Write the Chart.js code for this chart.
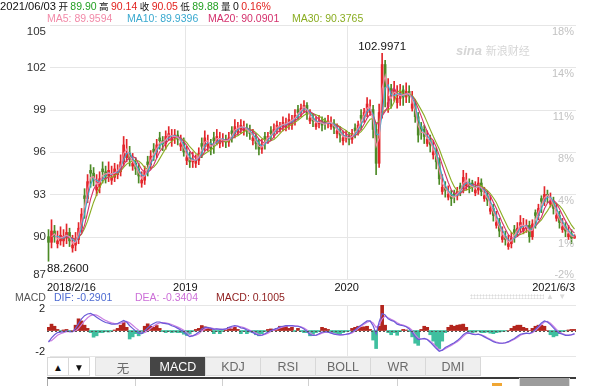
<!DOCTYPE html>
<html><head><meta charset="utf-8">
<script src="https://cdn.jsdelivr.net/npm/chart.js@4/dist/chart.umd.min.js"></script>
<style>
body{margin:0;width:600px;height:386px;overflow:hidden;background:#fff;position:relative;font-family:"Liberation Sans",Arial,"Noto Sans CJK SC",sans-serif;}
.a{position:absolute;white-space:nowrap}
.cjk{font-family:"Noto Sans CJK SC","Liberation Sans",sans-serif}
.h .cjk{font-size:9.5px}
.g{color:#23a023}.r{color:#e2231f}
.tab{position:absolute;top:357px;height:19px;line-height:19px;text-align:center;font-size:12.5px;color:#6a6a6a;background:#efefef;border:1px solid #d8d8d8;box-sizing:border-box}
canvas{position:absolute;left:0}
</style></head><body>
<canvas id="main" width="600" height="300" style="top:0;width:600px;height:300px"></canvas>
<canvas id="macd" width="600" height="60" style="top:300px;width:600px;height:60px"></canvas>

<div class="a h" style="left:0;top:-1px;font-size:10.5px;line-height:14px;color:#111;word-spacing:-0.5px"><span style="font-size:11.2px">2021/06/03</span> <span class="cjk">开</span> <span class="g">89.90</span> <span class="cjk">高</span> <span class="r">90.14</span> <span class="cjk">收</span> <span class="r">90.05</span> <span class="cjk">低</span> <span class="g">89.88</span> <span class="cjk">量</span> 0 <span class="r">0.16%</span></div>
<div class="a" style="left:47px;top:11px;font-size:10.5px;line-height:14px;color:#f28aa8">MA5: 89.9594</div>
<div class="a" style="left:127px;top:11px;font-size:10.5px;line-height:14px;color:#3aa9cf">MA10: 89.9396</div>
<div class="a" style="left:208px;top:11px;font-size:10.5px;line-height:14px;color:#d4306c">MA20: 90.0901</div>
<div class="a" style="left:292px;top:11px;font-size:10.5px;line-height:14px;color:#8aad22">MA30: 90.3765</div>

<div class="a" style="left:456px;top:43px;color:#d6d6d6;font-size:13px;line-height:14px"><i><b>sina</b></i> <span class="cjk" style="font-size:11px">新浪财经</span></div>

<div class="a" style="left:15px;top:290px;font-size:10.5px;line-height:14px;color:#555">MACD</div>
<div class="a" style="left:54px;top:290px;font-size:10.5px;line-height:14px;color:#4d6bd2">DIF: -0.2901</div>
<div class="a" style="left:135px;top:290px;font-size:10.5px;line-height:14px;color:#cc6fd8">DEA: -0.3404</div>
<div class="a" style="left:216px;top:290px;font-size:10.5px;line-height:14px;color:#8e1d1d">MACD: 0.1005</div>
<div class="a" style="left:470px;top:294px;width:74px;height:5px;background-image:radial-gradient(#dcdcdc 45%,transparent 50%);background-size:3px 3px"></div>
<div class="a" style="left:546px;top:291px;font-size:8px;line-height:12px;color:#dadada">▲ &nbsp;▼</div>

<div class="tab" style="left:47px;width:22px;background:#fff;color:#111;font-size:10px">▲</div>
<div class="tab" style="left:68px;width:22px;background:#fff;color:#111;font-size:10px">▼</div>
<div class="tab cjk" style="left:95px;width:56px">无</div>
<div class="tab" style="left:150px;width:56px;background:#454545;border-color:#454545;color:#fff">MACD</div>
<div class="tab" style="left:205px;width:56px">KDJ</div>
<div class="tab" style="left:260px;width:56px">RSI</div>
<div class="tab" style="left:315px;width:56px">BOLL</div>
<div class="tab" style="left:370px;width:56px">WR</div>
<div class="tab" style="left:425px;width:56px">DMI</div>

<div class="a" style="left:47px;top:377px;width:528px;height:9px;border-top:2px solid #3a3a3a;border-left:1px solid #aaa"></div>
<div class="a" style="left:135px;top:379px;width:1px;height:7px;background:#d0d0d0"></div>
<div class="a" style="left:222px;top:379px;width:1px;height:7px;background:#d0d0d0"></div>
<div class="a" style="left:308px;top:379px;width:1px;height:7px;background:#d0d0d0"></div>
<div class="a" style="left:397px;top:379px;width:1px;height:7px;background:#d0d0d0"></div>
<div class="a" style="left:492px;top:383px;width:10px;height:3px;background:#f0a633"></div>
<div class="a" style="left:519px;top:378px;width:49px;height:8px;background:#9c9c9c;border-left:1px solid #ddd;border-right:1px solid #ddd"></div>

<script>
// ---- price data (one bar ≈ 4.6 trading days) ----
const opens = [
90.0,89.6,90.4,89.5,89.7,89.7,89.9,90.3,89.2,89.4,
89.8,90.6,92.9,92.7,94.7,94.5,93.3,93.5,94.8,94.6,
94.3,94.0,94.2,94.4,94.6,95.3,95.6,95.9,95.0,95.2,
94.8,93.8,94.0,95.3,95.1,96.2,96.0,97.0,96.8,96.6,
97.1,96.8,97.0,97.2,96.4,96.6,95.4,95.6,95.3,95.2,
95.4,96.6,96.4,96.4,96.6,97.0,96.8,96.6,96.8,96.9,
96.7,97.5,97.3,97.4,97.6,97.5,97.7,97.5,96.8,97.0,
96.6,96.2,97.1,96.9,97.5,97.3,97.6,97.6,97.8,97.7,
97.9,97.9,98.2,99.0,98.8,99.1,99.3,98.2,98.4,97.8,
98.0,98.2,98.2,98.0,97.8,98.0,97.3,97.5,96.8,97.0,
97.1,96.9,97.7,97.5,98.6,98.4,98.8,98.8,99.0,97.6,
95.2,98.8,102.2,99.2,100.5,100.1,99.5,99.8,100.4,99.9,
100.3,99.1,99.4,98.5,97.8,97.6,96.6,96.9,95.8,96.0,
95.3,93.2,93.5,92.8,93.0,93.1,92.9,93.6,93.4,93.6,
93.8,93.8,93.1,93.3,93.8,92.7,92.9,91.8,92.0,90.8,
91.0,89.8,90.0,89.3,89.5,90.5,90.3,90.6,90.4,90.6,
90.8,90.0,91.7,91.5,92.7,92.5,93.0,92.3,92.5,91.3,
91.5,90.5,90.7,90.0,90.2,89.90];
const closes = [
89.6,90.4,90.0,89.7,90.1,89.9,90.3,89.7,89.4,89.8,
90.6,91.6,92.7,93.9,94.5,94.0,93.5,94.1,94.6,94.3,
94.7,94.2,94.8,94.6,95.3,96.5,95.9,95.5,95.2,94.8,
94.3,94.0,94.6,95.1,95.7,96.0,96.5,96.8,96.6,97.1,
97.3,97.0,97.2,96.9,96.6,96.0,95.6,95.3,95.5,95.4,
95.9,96.4,97.0,96.6,96.2,96.8,97.1,96.8,96.9,96.7,
97.0,97.3,97.8,97.6,97.9,97.7,97.5,97.3,97.0,96.6,
96.2,96.5,96.9,97.1,97.3,97.6,97.9,97.8,98.1,97.9,
98.3,98.2,98.6,98.8,99.1,99.3,98.7,98.4,98.2,98.0,
98.2,97.9,98.0,98.2,98.0,97.7,97.5,97.2,97.0,97.1,
96.9,97.3,97.5,97.9,98.4,98.8,99.4,99.0,97.6,95.2,
98.8,102.2,100.6,99.5,100.1,100.4,99.8,100.2,99.9,100.3,
100.0,99.4,98.5,97.2,97.6,97.1,96.9,96.5,96.0,95.3,
94.1,93.5,93.3,93.0,92.7,92.9,93.2,93.4,94.2,93.8,
93.5,93.6,93.3,93.8,93.2,92.9,92.6,92.0,91.5,91.0,
90.4,90.0,89.8,89.5,89.9,90.3,90.6,91.0,90.6,90.8,
90.0,90.9,91.5,92.0,92.5,93.0,92.9,92.5,92.0,91.5,
91.0,90.7,90.4,90.2,89.9,90.05];
const highs = [
90.5,91.2,90.8,90.4,90.7,90.5,90.9,90.6,90.1,90.3,
91.0,92.0,93.4,94.4,95.1,94.9,94.4,94.6,95.3,95.0,
95.3,95.0,95.2,95.1,95.8,97.1,96.9,96.4,95.9,95.6,
95.2,94.6,95.0,95.7,96.1,96.6,96.9,97.4,97.1,97.5,
97.8,97.6,97.6,97.5,97.2,97.0,96.4,96.0,96.0,95.8,
96.3,97.0,97.5,97.2,96.9,97.4,97.6,97.4,97.3,97.2,
97.4,97.8,98.3,98.1,98.3,98.2,98.0,97.9,97.6,97.3,
96.9,96.9,97.4,97.4,97.8,98.0,98.2,98.1,98.5,98.4,
98.7,98.6,99.0,99.3,99.4,99.65,99.5,99.0,98.7,98.5,
98.6,98.5,98.4,98.6,98.5,98.3,98.0,97.8,97.5,97.5,
97.4,97.6,98.0,98.2,99.0,99.1,99.85,99.7,99.3,98.0,
99.4,102.9971,102.5,101.2,100.8,101.0,100.7,100.8,100.7,100.9,
100.7,100.3,99.7,98.8,98.1,97.9,97.5,97.2,96.8,96.3,
95.6,94.4,93.9,93.6,93.3,93.3,93.5,93.8,94.7,94.5,
94.1,94.0,93.9,94.2,94.1,93.5,93.2,92.9,92.3,91.8,
91.3,90.7,90.4,90.1,90.3,90.8,91.0,91.5,91.3,91.2,
91.1,91.2,91.9,92.3,92.9,93.55,93.3,93.1,92.8,92.3,
91.8,91.3,91.0,90.8,90.5,90.14];
const lows = [
88.26,89.2,89.6,89.2,89.4,89.3,89.5,89.3,88.9,89.0,
89.5,90.3,91.3,92.4,93.5,93.6,92.9,93.1,93.8,93.8,
93.9,93.7,93.9,94.1,94.3,95.0,95.3,95.0,94.7,94.4,
93.8,93.5,93.7,94.3,94.8,95.4,95.6,96.2,96.1,96.2,
96.8,96.4,96.6,96.5,96.1,95.7,95.1,94.9,94.9,94.9,
95.1,95.6,96.1,96.1,95.8,95.9,96.5,96.3,96.4,96.3,
96.4,96.7,97.0,97.2,97.3,97.2,97.1,96.9,96.5,96.2,
95.8,95.9,96.2,96.6,96.8,97.0,97.3,97.4,97.5,97.5,
97.6,97.6,97.9,98.3,98.5,98.8,98.3,98.0,97.8,97.6,
97.7,97.5,97.6,97.7,97.6,97.3,97.0,96.7,96.5,96.7,
96.5,96.6,97.0,97.2,97.6,98.1,98.5,98.6,97.0,94.4,
94.9,98.4,99.2,98.8,99.1,99.6,99.1,99.3,99.3,99.5,
99.5,98.9,98.1,96.7,96.9,96.6,96.4,96.0,95.5,94.8,
93.7,93.0,92.8,92.6,92.2,92.4,92.6,92.9,93.1,93.3,
93.1,93.2,92.9,93.0,92.9,92.5,92.2,91.6,91.1,90.6,
90.0,89.6,89.4,89.1,89.2,89.6,90.0,90.3,90.2,90.3,
89.6,89.8,90.6,91.2,91.7,92.2,92.4,92.1,91.6,91.1,
90.6,90.3,90.0,89.8,89.5,89.88];

// ---- MACD panel values ----
const difVals = [
-1.1,-0.7,-0.4,-0.2,-0.15,-0.1,-0.05,-0.1,-0.1,0.2,
0.65,1.1,1.4,1.55,1.6,1.45,1.25,1.05,0.9,0.75,
0.7,0.6,0.6,0.65,0.8,0.95,0.8,0.45,0.2,-0.05,
-0.25,-0.3,-0.05,0.25,0.5,0.65,0.8,0.8,0.7,0.65,
0.6,0.45,0.35,0.2,0.05,-0.15,-0.4,-0.57,-0.5,-0.35,
-0.15,0.15,0.3,0.3,0.2,0.1,0.15,0.1,0.1,0.15,
0.3,0.4,0.47,0.4,0.25,0.2,0.05,-0.05,-0.2,-0.35,
-0.47,-0.45,-0.3,-0.15,0.0,0.1,0.2,0.35,0.4,0.45,
0.47,0.45,0.4,0.4,0.3,0.15,-0.1,-0.4,-0.47,-0.45,
-0.3,-0.15,-0.1,-0.15,-0.25,-0.35,-0.4,-0.42,-0.4,-0.35,
-0.3,-0.15,0.05,0.3,0.5,0.7,0.9,0.9,0.45,-0.3,
0.8,1.6,1.45,1.1,0.95,0.85,0.6,0.5,0.45,0.35,
0.15,-0.2,-0.6,-0.85,-0.8,-0.75,-0.85,-1.1,-1.4,-1.7,
-1.95,-1.85,-1.6,-1.45,-1.3,-1.15,-0.95,-0.7,-0.4,-0.2,
-0.25,-0.35,-0.4,-0.35,-0.45,-0.6,-0.75,-0.9,-1.05,-1.15,
-1.2,-1.2,-1.15,-1.05,-0.9,-0.75,-0.55,-0.35,-0.3,-0.25,
-0.3,-0.15,0.1,0.4,0.7,0.9,0.8,0.55,0.25,-0.05,
-0.25,-0.35,-0.45,-0.45,-0.4,-0.2901];
const deaVals = [
-1.0,-0.95,-0.7,-0.45,-0.3,-0.2,-0.12,-0.1,-0.1,-0.05,
0.2,0.55,0.9,1.2,1.4,1.5,1.45,1.3,1.1,0.95,
0.82,0.72,0.65,0.62,0.66,0.78,0.85,0.72,0.5,0.25,
0.02,-0.15,-0.2,-0.05,0.2,0.42,0.6,0.72,0.75,0.72,
0.66,0.56,0.45,0.32,0.18,0.02,-0.2,-0.4,-0.5,-0.45,
-0.3,-0.05,0.15,0.25,0.25,0.18,0.15,0.13,0.11,0.12,
0.2,0.3,0.4,0.42,0.35,0.27,0.15,0.03,-0.1,-0.25,
-0.38,-0.43,-0.38,-0.25,-0.1,0.03,0.13,0.25,0.33,0.4,
0.44,0.45,0.43,0.41,0.35,0.23,0.05,-0.22,-0.4,-0.45,
-0.38,-0.25,-0.15,-0.13,-0.2,-0.3,-0.37,-0.41,-0.41,-0.37,
-0.32,-0.22,-0.05,0.18,0.4,0.6,0.78,0.88,0.7,0.3,
0.5,1.1,1.35,1.2,1.05,0.92,0.72,0.58,0.5,0.4,
0.25,0.0,-0.4,-0.72,-0.8,-0.78,-0.82,-1.0,-1.25,-1.55,
-1.82,-1.88,-1.72,-1.55,-1.4,-1.22,-1.05,-0.82,-0.55,-0.3,
-0.25,-0.3,-0.37,-0.37,-0.4,-0.52,-0.68,-0.82,-0.97,-1.1,
-1.17,-1.2,-1.17,-1.1,-0.97,-0.82,-0.65,-0.45,-0.33,-0.27,
-0.28,-0.2,0.0,0.27,0.55,0.8,0.85,0.68,0.4,0.1,
-0.15,-0.3,-0.4,-0.44,-0.42,-0.3404];
const macdHist = [
0.3,0.6,0.4,0.1,-0.05,0.05,0.1,-0.05,0.0,0.5,
1.1,0.9,0.5,0.2,-0.2,-0.63,-0.5,-0.2,-0.2,-0.1,
-0.15,-0.05,0.05,0.2,0.5,0.8,0.3,-0.8,-0.6,-0.3,
-0.5,-0.3,0.4,0.63,0.4,0.3,0.47,0.2,-0.1,-0.2,
-0.1,-0.2,-0.15,-0.2,-0.2,-0.35,-0.47,-0.3,-0.1,0.1,
0.2,0.47,0.35,0.2,0.1,-0.3,-0.1,-0.3,-0.1,0.05,
0.3,0.15,0.3,0.1,-0.3,-0.1,-0.3,-0.15,-0.2,-0.4,
-0.5,-0.3,-0.1,0.1,0.15,0.1,0.2,0.4,0.35,0.4,
0.2,0.3,-0.1,0.2,-0.1,-0.2,-0.2,-0.5,-0.4,-0.2,
-0.1,0.3,0.2,0.1,-0.2,-0.3,-0.35,-0.3,-0.2,-0.1,
-0.05,0.2,0.3,0.4,0.3,0.35,0.4,0.1,-0.9,-1.7,
0.4,2.6,0.5,-0.2,-0.4,-0.2,-0.45,-0.1,0.1,0.05,
-0.1,-0.6,-1.2,-1.4,0.1,0.4,0.3,-0.4,-1.0,-1.5,
-1.7,-1.0,-0.2,0.3,0.5,0.4,0.5,0.55,0.6,0.3,
-0.1,-0.2,-0.15,-0.05,-0.2,-0.2,-0.15,-0.25,-0.3,-0.2,
-0.15,-0.1,-0.05,0.0,0.2,0.4,0.5,0.5,0.3,0.2,
0.0,0.2,0.4,0.5,0.5,0.4,0.0,-0.4,-0.6,-0.5,
-0.3,-0.1,-0.05,0.05,0.1,0.1005];

// ---- axis ticks / labels ----
const priceTicks = [87, 90, 93, 96, 99, 102, 105];
const pctLabels  = ['-2%', '1%', '4%', '8%', '11%', '14%', '18%'];
const dateTickPos  = [0, 45.5, 99.2, 175];          // bar index of each date label
const dateTickText = ['2018/2/16', '2019', '2020', '2021/6/3'];
const yearLinePos  = [45.5, 99.2];                  // 2019 / 2020 boundaries
const macdTicks = [-2, 2];

// moving-average windows in bars (≈ 5/10/20/30 trading days)
const maWindows = [2, 3, 5, 7];
const maColors  = ['#f28aa8', '#3aa9cf', '#d4306c', '#8aad22'];

const UP = '#e3262b', DOWN = '#4c8a26';
const N = closes.length;
const idx = closes.map((_, i) => i);

function sma(arr, n) {
  return arr.map((_, i) => {
    if (i < n - 1) return null;
    let s = 0; for (let k = i - n + 1; k <= i; k++) s += arr[k];
    return s / n;
  });
}

const candleColors = idx.map(i => (closes[i] >= opens[i] ? UP : DOWN));
const FONT = '"Liberation Sans", Arial, sans-serif';

const mainDeco = {
  id: 'mainDeco',
  beforeDatasetsDraw(c) {
    const { ctx, chartArea: a, scales: { x, y } } = c;
    ctx.save(); ctx.lineWidth = 1; ctx.strokeStyle = '#e6e6e6';
    priceTicks.forEach(v => {
      const p = Math.round(y.getPixelForValue(v)) + 0.5;
      ctx.beginPath(); ctx.moveTo(a.left + 3, p); ctx.lineTo(a.right, p); ctx.stroke();
    });
    yearLinePos.forEach(v => {
      const p = Math.round(x.getPixelForValue(v)) + 0.5;
      ctx.beginPath(); ctx.moveTo(p, a.top); ctx.lineTo(p, a.bottom); ctx.stroke();
    });
    ctx.restore();
  },
  afterDatasetsDraw(c) {
    const { ctx, chartArea: a, scales: { x, y } } = c;
    ctx.save();
    ctx.textBaseline = 'middle';
    ctx.font = '11.5px ' + FONT; ctx.fillStyle = '#333'; ctx.textAlign = 'right';
    priceTicks.forEach(v => {
      let p = y.getPixelForValue(v);
      p = Math.min(Math.max(p, a.top + 7), a.bottom - 4);
      ctx.fillText(String(v), a.left - 1, p);
    });
    ctx.font = '11px ' + FONT; ctx.fillStyle = '#c2c2c2';
    pctLabels.forEach((t, k) => {
      let p = y.getPixelForValue(priceTicks[k]) + 7;
      p = Math.min(p, a.bottom - 4);
      ctx.fillText(t, a.right - 2, p);
    });
    ctx.font = '11px ' + FONT; ctx.fillStyle = '#111';
    dateTickText.forEach((t, k) => {
      const px = x.getPixelForValue(dateTickPos[k]);
      if (k === 0) { ctx.textAlign = 'left'; ctx.fillText(t, a.left, a.bottom + 9); }
      else if (k === dateTickText.length - 1) { ctx.textAlign = 'right'; ctx.fillText(t, a.right - 1, a.bottom + 9); }
      else { ctx.textAlign = 'center'; ctx.fillText(t, px, a.bottom + 9); }
    });
    ctx.font = '11.5px ' + FONT; ctx.fillStyle = '#111';
    const hMax = Math.max(...highs), iMax = highs.indexOf(hMax);
    ctx.textAlign = 'center'; ctx.textBaseline = 'bottom';
    ctx.fillText(hMax.toFixed(4), x.getPixelForValue(iMax), y.getPixelForValue(hMax) - 1);
    const lMin = Math.min(...lows), iMin = lows.indexOf(lMin);
    const txt = lMin.toFixed(4), w = ctx.measureText(txt).width;
    const lx = Math.max(a.left, x.getPixelForValue(iMin) - w / 2);
    ctx.textAlign = 'left'; ctx.textBaseline = 'top';
    ctx.fillText(txt, lx, y.getPixelForValue(lMin) + 2);
    ctx.restore();
  }
};

const maSets = maWindows.map((n, k) => {
  const m = sma(closes, n);
  return { type: 'line', data: idx.map(i => ({ x: i, y: m[i] })), borderColor: maColors[k],
           borderWidth: 1.1, pointRadius: 0, tension: 0, fill: false, order: 0 };
});

new Chart(document.getElementById('main'), {
  type: 'bar',
  data: { datasets: [
    ...maSets,
    { type: 'bar', data: idx.map(i => ({ x: i, y: [Math.min(opens[i], closes[i]), Math.max(opens[i], closes[i])] })),
      backgroundColor: candleColors, barThickness: 2, minBarLength: 1, grouped: false, order: 1 },
    { type: 'bar', data: idx.map(i => ({ x: i, y: [lows[i], highs[i]] })),
      backgroundColor: candleColors, barThickness: 1, grouped: false, order: 2 }
  ]},
  options: {
    responsive: false, animation: false, devicePixelRatio: 1, events: [],
    layout: { padding: { left: 47, right: 24, top: 25, bottom: 21 } },
    plugins: { legend: { display: false }, tooltip: { enabled: false } },
    scales: {
      x: { type: 'linear', min: -0.5, max: N - 0.5, display: false, offset: false },
      y: { min: 87, max: 105, display: false }
    }
  },
  plugins: [mainDeco]
});

const macdDeco = {
  id: 'macdDeco',
  beforeDatasetsDraw(c) {
    const { ctx, chartArea: a, scales: { x } } = c;
    ctx.save(); ctx.lineWidth = 1; ctx.strokeStyle = '#e6e6e6';
    [a.top, a.bottom].forEach(p0 => {
      const p = Math.round(p0) + 0.5;
      ctx.beginPath(); ctx.moveTo(a.left + 3, p); ctx.lineTo(a.right, p); ctx.stroke();
    });
    yearLinePos.forEach(v => {
      const p = Math.round(x.getPixelForValue(v)) + 0.5;
      ctx.beginPath(); ctx.moveTo(p, a.top); ctx.lineTo(p, a.bottom); ctx.stroke();
    });
    ctx.restore();
  },
  afterDatasetsDraw(c) {
    const { ctx, chartArea: a, scales: { y } } = c;
    ctx.save();
    const z = Math.round(y.getPixelForValue(0)) + 0.5;
    ctx.strokeStyle = '#555'; ctx.lineWidth = 1; ctx.setLineDash([2, 2]);
    ctx.beginPath(); ctx.moveTo(a.left, z); ctx.lineTo(a.right, z); ctx.stroke();
    ctx.setLineDash([]);
    ctx.font = '11px ' + FONT; ctx.fillStyle = '#222'; ctx.textAlign = 'right'; ctx.textBaseline = 'middle';
    macdTicks.forEach(v => ctx.fillText(String(v), a.left - 2, y.getPixelForValue(v)));
    ctx.restore();
  }
};

new Chart(document.getElementById('macd'), {
  type: 'bar',
  data: { datasets: [
    { type: 'line', data: idx.map(i => ({ x: i, y: difVals[i] })), borderColor: '#6a5ad8', borderWidth: 1.2, pointRadius: 0, tension: 0, order: 0 },
    { type: 'line', data: idx.map(i => ({ x: i, y: deaVals[i] })), borderColor: '#c97ee2', borderWidth: 1.2, pointRadius: 0, tension: 0, order: 1 },
    { type: 'bar', data: idx.map(i => ({ x: i, y: macdHist[i] })),
      backgroundColor: macdHist.map(h => (h >= 0 ? '#b3251d' : '#3fbf9f')),
      barPercentage: 1, categoryPercentage: 1, order: 2 }
  ]},
  options: {
    responsive: false, animation: false, devicePixelRatio: 1, events: [],
    layout: { padding: { left: 47, right: 24, top: 5, bottom: 4 } },
    plugins: { legend: { display: false }, tooltip: { enabled: false } },
    scales: {
      x: { type: 'linear', min: -0.5, max: N - 0.5, display: false, offset: false },
      y: { min: -2.4, max: 2.4, display: false }
    }
  },
  plugins: [macdDeco]
});
</script>
</body></html>
